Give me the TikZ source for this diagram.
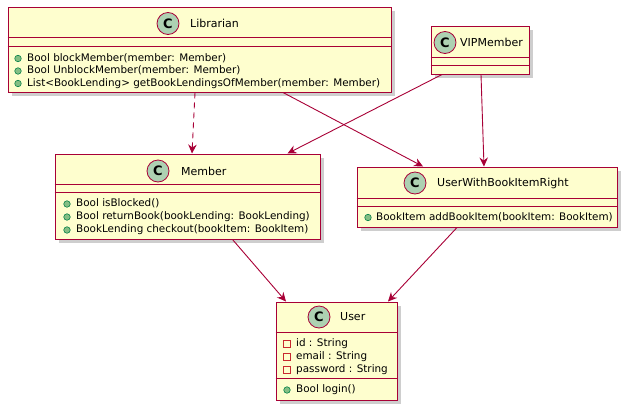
\documentclass[tikz,border=0pt]{standalone}
\usepackage{fontspec}
\setmainfont{DejaVu Sans}
\usepackage{xcolor}
\usetikzlibrary{arrows.meta,shadows}
\definecolor{umlred}{HTML}{A80036}
\definecolor{umlfill}{HTML}{FEFECE}
\definecolor{markgreen}{HTML}{ADD1B2}
\definecolor{pubgreen}{HTML}{84BE84}
\definecolor{pubdark}{HTML}{038048}
\definecolor{privred}{HTML}{C82930}
\tikzset{umlclass/.style={draw=umlred,fill=umlfill,line width=1pt,rectangle,inner sep=0pt,
    	drop shadow={shadow xshift=3.5pt,shadow yshift=-3.5pt,fill=black!35,opacity=0.55}},
    	divider/.style={draw=umlred,line width=1pt},
    	classmark/.style={circle,draw=umlred,fill=markgreen,line width=0.8pt,minimum size=22pt,inner sep=0pt,
    	font=\fontsize{13}{13}\selectfont\bfseries},
    	classname/.style={anchor=west,inner sep=0pt,font=\fontsize{11}{13}\selectfont},
    	member/.style={anchor=west,inner sep=0pt,text height=7.5pt,text depth=2.5pt,font=\fontsize{10.4}{12}\selectfont},
    	pub/.style={circle,draw=pubdark,fill=pubgreen,line width=0.6pt,minimum size=6.5pt,inner sep=0pt},
    	priv/.style={rectangle,draw=privred,line width=0.8pt,minimum size=7pt,inner sep=0pt},
    	assoc/.style={draw=umlred,line width=0.9pt,-{Stealth[length=9pt,width=8.5pt,inset=3pt]}}}

\begin{document}
\begin{tikzpicture}[x=1pt,y=-1pt]
			\useasboundingbox (0,0) rectangle (634,418);
			% Librarian
			\node[umlclass,minimum width=383pt,minimum height=85pt] (Librarian) at (199.5,49.5) {};
			\draw[divider] ([yshift=-31pt]Librarian.north west) -- ([yshift=-31pt]Librarian.north east);
			\draw[divider] ([yshift=-40pt]Librarian.north west) -- ([yshift=-40pt]Librarian.north east);
			\node[classmark] (LibrarianC) at (168,23.5) {C};
			\node[classname] (LibrarianName) at (190,23.5) {Librarian};
			\node[pub] (LibrarianDot1) at (18,58.5) {};
			\node[member] (LibrarianOp1) at (27,58.5) {Bool blockMember(member: Member)};
			\node[pub] (LibrarianDot2) at (18,71) {};
			\node[member] (LibrarianOp2) at (27,71) {Bool UnblockMember(member: Member)};
			\node[pub] (LibrarianDot3) at (18,83.5) {};
			\node[member] (LibrarianOp3) at (27,83.5) {List<BookLending> getBookLendingsOfMember(member: Member)};
			% VIPMember
			\node[umlclass,minimum width=98pt,minimum height=48pt] (VIPMember) at (480,50) {};
			\draw[divider] ([yshift=-32pt]VIPMember.north west) -- ([yshift=-32pt]VIPMember.north east);
			\draw[divider] ([yshift=-40pt]VIPMember.north west) -- ([yshift=-40pt]VIPMember.north east);
			\node[classmark] (VIPMemberC) at (445,42.5) {C};
			\node[classname] (VIPMemberName) at (460,42.5) {VIPMember};
			% Member
			\node[umlclass,minimum width=265pt,minimum height=85pt] (Member) at (187.5,196.5) {};
			\draw[divider] ([yshift=-31pt]Member.north west) -- ([yshift=-31pt]Member.north east);
			\draw[divider] ([yshift=-39pt]Member.north west) -- ([yshift=-39pt]Member.north east);
			\node[classmark] (MemberC) at (158,171) {C};
			\node[classname] (MemberName) at (181,171) {Member};
			\node[pub] (MemberDot1) at (67,204) {};
			\node[member] (MemberOp1) at (76,204) {Bool isBlocked()};
			\node[pub] (MemberDot2) at (67,217) {};
			\node[member] (MemberOp2) at (76,217) {Bool returnBook(bookLending: BookLending)};
			\node[pub] (MemberDot3) at (67,230) {};
			\node[member] (MemberOp3) at (76,230) {BookLending checkout(bookItem: BookItem)};
			% UserWithBookItemRight
			\node[umlclass,minimum width=260pt,minimum height=60pt] (UWBIR) at (487,197) {};
			\draw[divider] ([yshift=-32pt]UWBIR.north west) -- ([yshift=-32pt]UWBIR.north east);
			\draw[divider] ([yshift=-40pt]UWBIR.north west) -- ([yshift=-40pt]UWBIR.north east);
			\node[classmark] (UWBIRC) at (415,183) {C};
			\node[classname] (UWBIRName) at (437,183) {UserWithBookItemRight};
			\node[pub] (UWBIRDot1) at (368,217.5) {};
			\node[member] (UWBIROp1) at (376,217.5) {BookItem addBookItem(bookItem: BookItem)};
			% User
			\node[umlclass,minimum width=121pt,minimum height=98pt] (User) at (336.5,351) {};
			\draw[divider] ([yshift=-31pt]User.north west) -- ([yshift=-31pt]User.north east);
			\draw[divider] ([yshift=-77pt]User.north west) -- ([yshift=-77pt]User.north east);
			\node[classmark] (UserC) at (319,317) {C};
			\node[classname] (UserName) at (340,317) {User};
			\node[priv] (UserBox1) at (287,343.5) {};
			\node[member] (UserAttr1) at (296,343.5) {id : String};
			\node[priv] (UserBox2) at (287,356.5) {};
			\node[member] (UserAttr2) at (296,356.5) {email : String};
			\node[priv] (UserBox3) at (287,369.5) {};
			\node[member] (UserAttr3) at (296,369.5) {password : String};
			\node[pub] (UserDot1) at (287,390) {};
			\node[member] (UserOp1) at (296,390) {Bool login()};
		
			\draw [assoc,dash pattern=on 6pt off 4pt]([xshift=-4.5pt]Librarian.south) -- ([xshift=4.5pt]Member.north);
			\draw [assoc]([xshift=83.5pt]Librarian.south) -- ([xshift=-64pt]UWBIR.north);
			\draw [assoc]([xshift=-38pt]VIPMember.south) -- ([xshift=100pt]Member.north);
			\draw [assoc]([xshift=1pt]VIPMember.south) -- ([xshift=-3pt]UWBIR.north);
			\draw [assoc]([xshift=45pt]Member.south) -- ([xshift=-50.5pt]User.north);
			\draw [assoc]([xshift=-30pt]UWBIR.south) -- ([xshift=51.5pt]User.north);
		\end{tikzpicture}
\end{document}
